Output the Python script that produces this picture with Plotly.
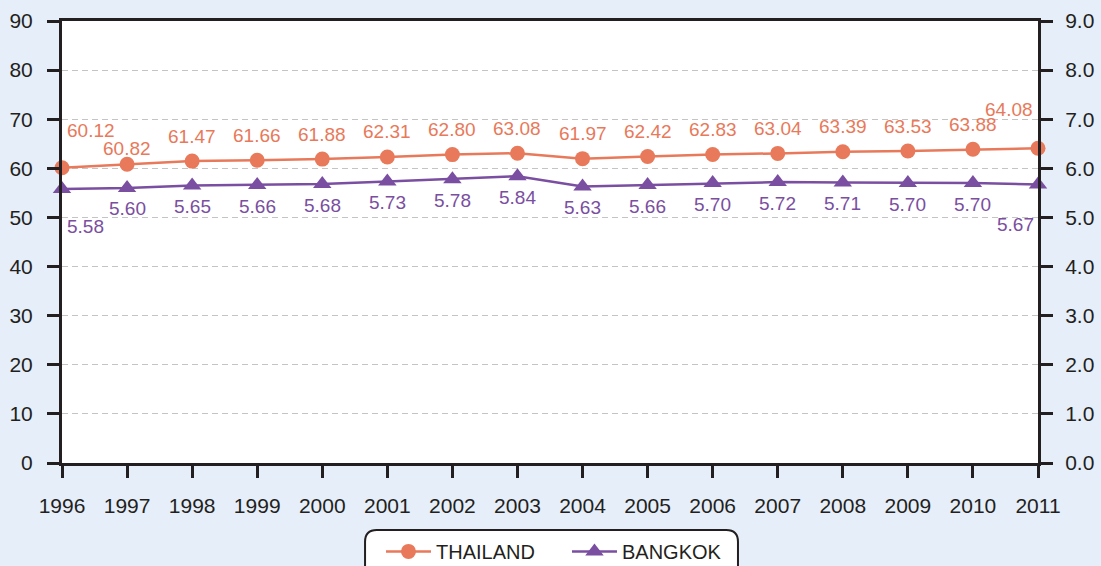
import plotly.graph_objects as go

years = list(range(1996, 2012))
thailand = [60.12, 60.82, 61.47, 61.66, 61.88, 62.31, 62.80, 63.08,
            61.97, 62.42, 62.83, 63.04, 63.39, 63.53, 63.88, 64.08]
bangkok = [5.58, 5.60, 5.65, 5.66, 5.68, 5.73, 5.78, 5.84,
           5.63, 5.66, 5.70, 5.72, 5.71, 5.70, 5.70, 5.67]
left_ticks = list(range(0, 100, 10))
right_ticks = [i / 1.0 for i in range(0, 10)]

orange = "#E8795A"
purple = "#7A4EA0"
ink = "#231f20"
font = "Liberation Sans, Arial, sans-serif"

fig = go.Figure()
fig.add_trace(go.Scatter(
    x=years, y=thailand, name="THAILAND", mode="lines+markers",
    line=dict(color=orange, width=2.5),
    marker=dict(symbol="circle", size=15, color=orange),
    cliponaxis=False,
))
fig.add_trace(go.Scatter(
    x=years, y=bangkok, name="BANGKOK", mode="lines+markers", yaxis="y2",
    line=dict(color=purple, width=2.5),
    marker=dict(symbol="triangle-up", size=16, color=purple),
    cliponaxis=False,
))

# value labels
n = len(years)
for i, (yr, v) in enumerate(zip(years, thailand)):
    dx, dy = 0, 25
    if i == 0:
        dx, dy = 29, 37
    elif i == 1:
        dy = 16
    elif i == n - 1:
        dx, dy = -29, 39
    fig.add_annotation(x=yr, y=v, yref="y", text=f"{v:.2f}", showarrow=False,
                       xshift=dx, yshift=dy,
                       font=dict(color=orange, size=19, family=font))
for i, (yr, v) in enumerate(zip(years, bangkok)):
    dx, dy = 0, -21
    if i == 0:
        dx, dy = 23, -38
    elif i == n - 1:
        dx, dy = -23, -40
    fig.add_annotation(x=yr, y=v, yref="y2", text=f"{v:.2f}", showarrow=False,
                       xshift=dx, yshift=dy,
                       font=dict(color=purple, size=19, family=font))

axis_common = dict(showline=True, linecolor=ink, linewidth=3,
                   ticks="outside", ticklen=12, tickwidth=3, tickcolor=ink,
                   tickfont=dict(size=21, color=ink, family=font),
                   zeroline=False, automargin=False)

fig.update_layout(
    width=1101, height=566,
    paper_bgcolor="#E6EEF9", plot_bgcolor="white",
    margin=dict(l=62, r=63, t=21, b=103, autoexpand=False),
    font=dict(family=font, color=ink),
    xaxis=dict(range=[1996, 2011], tickvals=years, mirror=True,
               showgrid=False, ticklabelstandoff=10, **axis_common),
    yaxis=dict(range=[0, 90], tickvals=left_ticks, showgrid=True,
               gridcolor="#c4c4c4", griddash="6px,4px", gridwidth=1,
               ticklabelstandoff=10, **axis_common),
    yaxis2=dict(range=[0, 9], tickvals=right_ticks, tickformat=".1f",
                overlaying="y", side="right", showgrid=False,
                ticklabelstandoff=8, **axis_common),
    showlegend=True,
    legend=dict(orientation="h", x=0.5174, xanchor="center", y=-0.2, yanchor="middle",
                font=dict(size=20, color=ink, family=font),
                itemwidth=45, entrywidth=126,
                bgcolor="rgba(0,0,0,0)"),
)

# rounded legend frame
x0, x1, y0, y1, r = 0.3105, 0.6926, -0.265, -0.1516, 0.012
ry = r * 976 / 442
fig.add_shape(
    type="path", xref="paper", yref="paper",
    path=(f"M {x0+r} {y1} L {x1-r} {y1} Q {x1} {y1} {x1} {y1-ry} "
          f"L {x1} {y0+ry} Q {x1} {y0} {x1-r} {y0} L {x0+r} {y0} "
          f"Q {x0} {y0} {x0} {y0+ry} L {x0} {y1-ry} Q {x0} {y1} {x0+r} {y1} Z"),
    line=dict(color=ink, width=2), fillcolor="white", layer="below",
)

fig.write_html("out.html", config={"displayModeBar": False},
               post_script="document.body.style.margin='0';")
